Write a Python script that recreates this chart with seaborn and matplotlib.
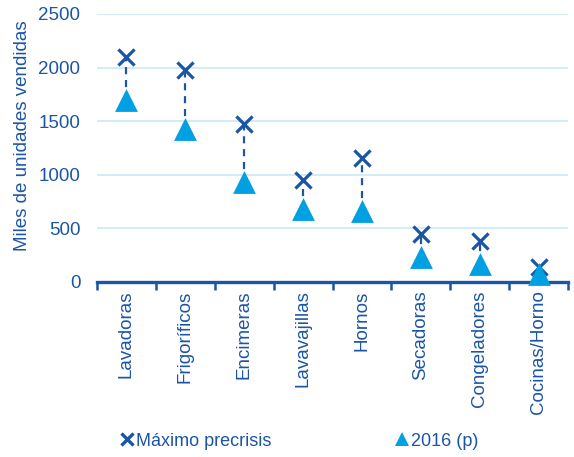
import matplotlib
matplotlib.use("Agg")
import matplotlib.pyplot as plt
from matplotlib.lines import Line2D
import seaborn as sns
import pandas as pd

categorias = ["Lavadoras", "Frigoríficos", "Encimeras", "Lavavajillas",
              "Hornos", "Secadoras", "Congeladores", "Cocinas/Horno"]
maximo_precrisis = [2100, 1980, 1470, 950, 1160, 450, 380, 140]
ventas_2016 = [1700, 1430, 930, 680, 660, 230, 170, 70]

AZUL_OSCURO = "#1B55A6"
AZUL_CLARO = "#00A0E2"
REJILLA = "#C9E8F6"

sns.set_theme(style="white")
plt.rcParams["font.family"] = ["Liberation Sans", "DejaVu Sans"]

df = pd.DataFrame({"categoria": categorias,
                   "maximo": maximo_precrisis,
                   "actual": ventas_2016})
df["x"] = range(len(df))

fig = plt.figure(figsize=(5.74, 4.57), dpi=100)
ax = fig.add_axes([97 / 574, 1 - 282 / 457, (568 - 97) / 574, (282 - 14) / 457])

# dashed connectors between the two series
ax.vlines(df["x"], df["actual"], df["maximo"], colors=AZUL_OSCURO,
          linestyles=(0, (3.2, 2.6)), linewidth=1.6, zorder=2)

sns.scatterplot(data=df, x="x", y="maximo", marker="x", s=135,
                color=AZUL_OSCURO, linewidth=2.3, ax=ax, zorder=3, legend=False)
sns.scatterplot(data=df, x="x", y="actual", marker="^", s=270,
                color=AZUL_CLARO, linewidth=0, ax=ax, zorder=4, legend=False,
                clip_on=False)

ax.set_xlim(-0.5, len(categorias) - 0.5)
ax.set_ylim(0, 2500)
ax.set_yticks(range(0, 2501, 500))
ax.yaxis.grid(True, color=REJILLA, linewidth=1.2)
ax.set_axisbelow(True)

for s in ["top", "right", "left"]:
    ax.spines[s].set_visible(False)
ax.spines["bottom"].set_color(AZUL_OSCURO)
ax.spines["bottom"].set_linewidth(2.4)
ax.spines["bottom"].set_zorder(3.5)

# category labels centred, tick marks at the category boundaries
ax.set_xticks(df["x"])
ax.set_xticklabels(categorias, rotation=90, fontsize=13.5, color=AZUL_OSCURO)
ax.tick_params(axis="x", which="major", length=0, pad=6)
ax.set_xticks([i - 0.5 for i in range(len(categorias) + 1)], minor=True)
ax.tick_params(axis="x", which="minor", direction="out", length=6,
               width=1.8, color=AZUL_OSCURO, bottom=True)
ax.tick_params(axis="y", length=0, labelsize=13.5, labelcolor=AZUL_OSCURO, pad=12)

ax.set_xlabel("")
ax.set_ylabel("Miles de unidades vendidas", fontsize=13.5, color=AZUL_OSCURO)
ax.yaxis.set_label_coords(-0.141, 0.545)

handles = [
    Line2D([], [], marker="x", linestyle="none", color=AZUL_OSCURO,
           markersize=9, markeredgewidth=2.4, label="Máximo precrisis"),
    Line2D([], [], marker="^", linestyle="none", color=AZUL_CLARO,
           markersize=10, markeredgewidth=0, label="2016 (p)"),
]
fig.legend(handles=handles, loc="center", bbox_to_anchor=(0.518, 1 - 441 / 457),
           ncol=2, frameon=False, fontsize=13, handletextpad=-0.1,
           columnspacing=6.6, handlelength=1.2, labelcolor=AZUL_OSCURO)

fig.savefig("out.png", dpi=100)
